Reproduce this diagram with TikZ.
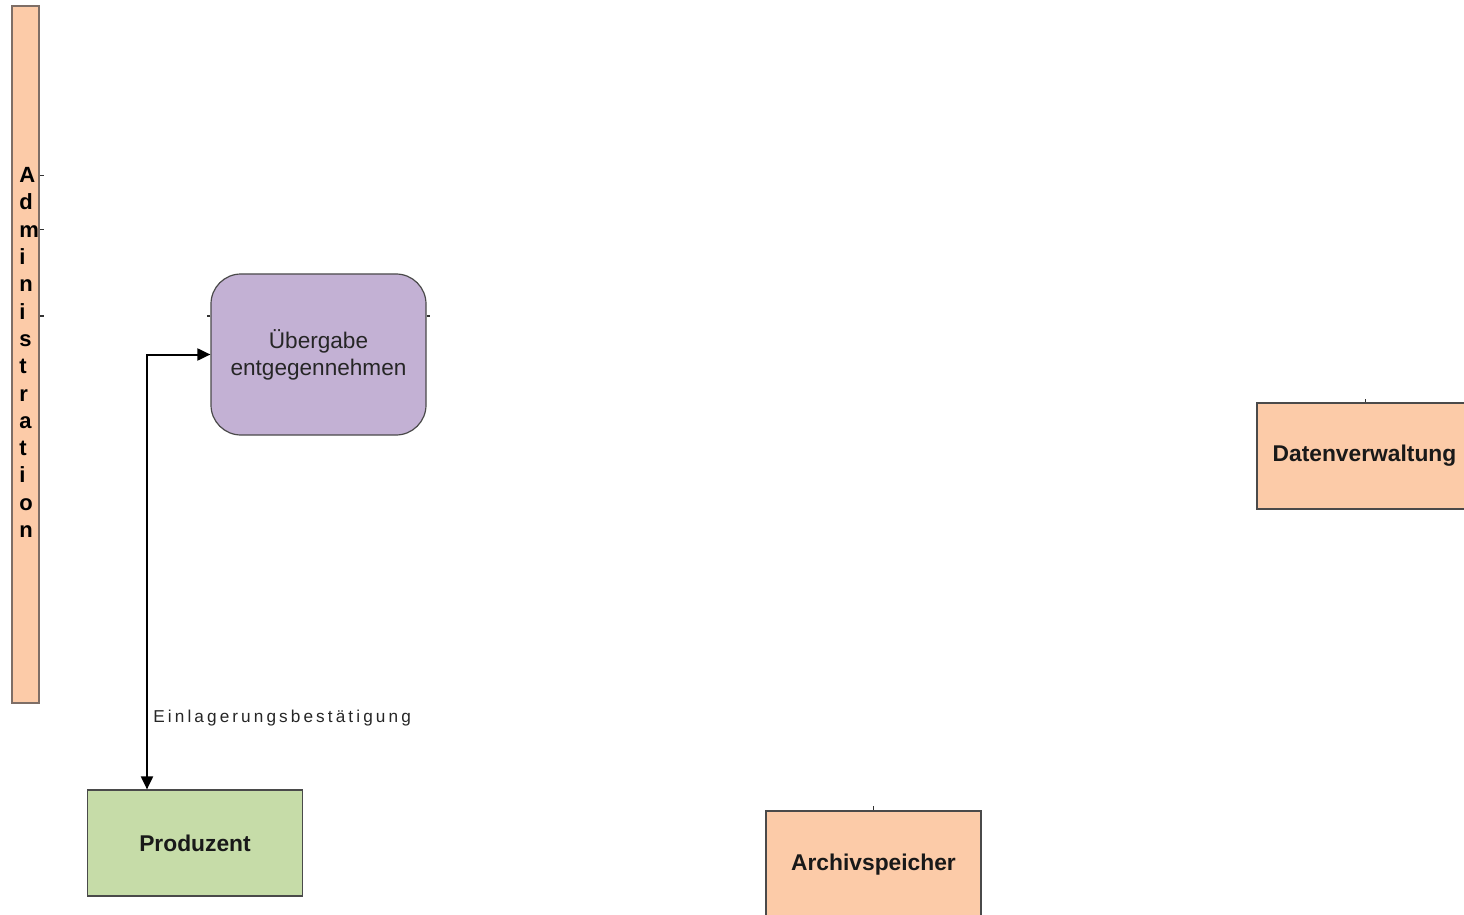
\documentclass[tikz,border=0pt]{standalone}
\usepackage{fontspec}
\setmainfont{Liberation Sans}
\newfontfamily\spacedfont[LetterSpace=18]{Liberation Sans}
\usetikzlibrary{arrows.meta}
\definecolor{peach}{HTML}{FCCBA8}
\definecolor{lilac}{HTML}{C3B1D4}
\definecolor{sage}{HTML}{C6DCA8}
\definecolor{edge}{HTML}{4A4A4A}
\definecolor{adminedge}{HTML}{7E6E66}
\tikzset{
  box/.style={draw=edge, line width=0.6pt, minimum width=107.5pt, minimum height=53pt, inner sep=0pt,
    font=\fontsize{11.4}{13}\selectfont\bfseries, text=black!90},
  procbox/.style={draw=edge, line width=0.6pt, fill=lilac, rounded corners=15pt, minimum width=107.5pt,
    minimum height=80.5pt, inner sep=0pt, align=center, font=\fontsize{11.3}{13.5}\selectfont, text=black!85},
  flow/.style={line width=1pt, {Triangle[length=6.5pt,width=6pt]}-{Triangle[length=6.5pt,width=6pt]}},
  stub/.style={line width=0.5pt, draw=black!80},
}
\begin{document}
\begin{tikzpicture}[x=0.5pt,y=-0.5pt]
\clip (0,0) rectangle (1464,915);
\fill[white] (0,0) rectangle (1464,915);
% Administration bar
\node[draw=adminedge, line width=0.8pt, fill=peach, minimum width=13.5pt, minimum height=348.5pt, inner sep=0pt] (admin) at (25.5,354.5) {};
\node[align=left, font=\fontsize{11}{13.65}\selectfont\bfseries, inner sep=0pt, anchor=west] (admintext) at (19,352.5)
  {A\\d\\m\\i\\n\\i\\s\\t\\r\\a\\t\\i\\o\\n};
% boxes
\node[procbox] (ueb) at (318.5,354.5) {Übergabe\\entgegennehmen};
\node[box, fill=sage] (prod) at (195,843) {Produzent};
\node[box, fill=peach, minimum height=54pt] (arch) at (873.5,865) {\raisebox{1pt}{Archivspeicher}};
\node[box, fill=peach] (dat) at (1364.5,456) {Datenverwaltung};
% connector
\coordinate (bend) at (147,354.5);
\draw[flow] (prod.north -| bend) |- (ueb.west);
\node[font=\spacedfont\fontsize{8.6}{10}\selectfont, text=black!85, anchor=west, inner sep=0pt] (lbl) at (153,718) {Einlagerungsbestätigung};
% connector stubs
\draw[stub] (admin.east |- 0,176) -- ++(4,0);
\draw[stub] (admin.east |- 0,230) -- ++(4,0);
\draw[stub] (admin.east |- 0,316) -- ++(4,0);
\draw[stub] (ueb.west |- 0,316) -- ++(-3,0);
\draw[stub] (ueb.east |- 0,316) -- ++(3,0);
\draw[stub] (arch.north) -- ++(0,-4);
\draw[stub] (dat.north -| 1365,0) -- ++(0,-3);
\end{tikzpicture}
\end{document}
